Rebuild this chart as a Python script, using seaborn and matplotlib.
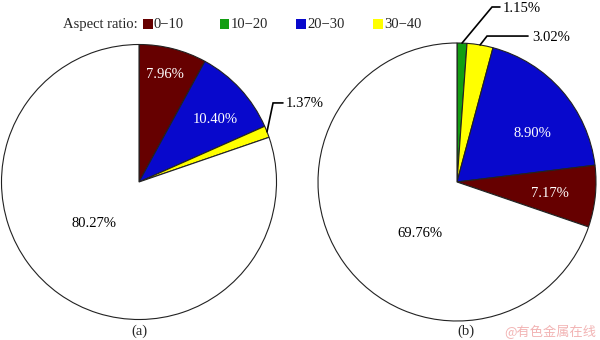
import matplotlib
matplotlib.use("Agg")
import matplotlib.pyplot as plt
import seaborn as sns
import numpy as np
from matplotlib.patches import Rectangle

sns.set_theme(style="white")
plt.rcParams['font.family'] = ['Liberation Serif', 'Noto Sans CJK SC']
plt.rcParams['mathtext.fontset'] = 'stix'

# ---------------- data ----------------
legend_title = "Aspect ratio:"
categories = ["0\u221210", "10\u221220", "20\u221230", "30\u221240"]
palette = {"0\u221210": "#660000", "10\u221220": "#129e12",
           "20\u221230": "#0808cc", "30\u221240": "#ffff00", "other": "#ffffff"}

a_cats = ["0\u221210", "20\u221230", "30\u221240", "other"]
a_values = [7.96, 10.40, 1.37, 80.27]
a_labels = ["7.96%", "10.40%", "1.37%", "80.27%"]

b_cats = ["10\u221220", "30\u221240", "20\u221230", "0\u221210", "other"]
b_values = [1.15, 3.02, 18.90, 7.17, 69.76]
b_labels = ["1.15%", "3.02%", "8.90%", "7.17%", "69.76%"]

panel_titles = ["(a)", "(b)"]

# ---------------- layout ----------------
W, H = 600, 340
fig = plt.figure(figsize=(W / 100, H / 100), dpi=100)
FS = 10.5

def axes_px(cx, cy, r):
    return fig.add_axes([(cx - r) / W, (H - cy - r) / H, 2 * r / W, 2 * r / H])

# label placement (data units): (x, y, ha, leader points or None)
a_place = [
    (0.189, 0.756, 'center', None, 'white'),
    (0.553, 0.429, 'center', None, 'white'),
    (1.069, 0.545, 'left', [(0.975, 0.575), (1.047, 0.575)], 'black'),
    (-0.324, -0.327, 'center', None, 'black'),
]
b_place = [
    (0.331, 1.223, 'left', [(0.252, 1.259), (0.309, 1.259)], 'black'),
    (0.540, 1.014, 'left', [(0.216, 1.050), (0.511, 1.050)], 'black'),
    (0.540, 0.324, 'center', None, 'white'),
    (0.669, -0.108, 'center', None, 'white'),
    (-0.270, -0.396, 'center', None, 'black'),
]

def draw_pie(ax, cats, values, labels, places):
    wedges, _ = ax.pie(values, colors=[palette[c] for c in cats], startangle=90,
                       counterclock=False, radius=1,
                       wedgeprops=dict(edgecolor='#222222', linewidth=0.8))
    ax.set_xlim(-1, 1)
    ax.set_ylim(-1, 1)
    ax.set_aspect('equal')
    ax.axis('off')
    for w, lab, (x, y, ha, leader, col) in zip(wedges, labels, places):
        if leader is not None:
            mid = np.deg2rad((w.theta1 + w.theta2) / 2)
            pts = [(np.cos(mid), np.sin(mid))] + leader
            xs, ys = zip(*pts)
            ax.plot(xs, ys, color='black', lw=1.2, clip_on=False,
                    solid_joinstyle='miter')
        ax.text(x, y, lab, ha=ha, va='baseline', color=col, fontsize=FS,
                clip_on=False)

ax1 = axes_px(139, 182, 137.5)
draw_pie(ax1, a_cats, a_values, a_labels, a_place)
ax2 = axes_px(457, 182, 139)
draw_pie(ax2, b_cats, b_values, b_labels, b_place)

# panel labels
fig.text(139 / W, 1 - 335 / H, panel_titles[0], ha='center', va='baseline', fontsize=FS)
fig.text(466 / W, 1 - 335 / H, panel_titles[1], ha='center', va='baseline', fontsize=FS)

# legend
fig.text(63 / W, 1 - 28 / H, legend_title, ha='left', va='baseline', fontsize=FS)
x0, step = 143, 76.7
for i, c in enumerate(categories):
    xs = x0 + i * step
    fig.patches.append(Rectangle((xs / W, 1 - 28.5 / H), 9.5 / W, 9.5 / H,
                                 transform=fig.transFigure, facecolor=palette[c],
                                 edgecolor='none'))
    fig.text((xs + 11) / W, 1 - 28 / H, c, ha='left', va='baseline', fontsize=FS)

# watermark
fig.text(550 / W, 1 - 332 / H, "@有色金属在线", ha='center', va='center',
         fontsize=9.5, color='#f2b4b4', family=['Noto Sans CJK SC', 'DejaVu Sans'])

fig.savefig("out.png", dpi=100, facecolor='white')
